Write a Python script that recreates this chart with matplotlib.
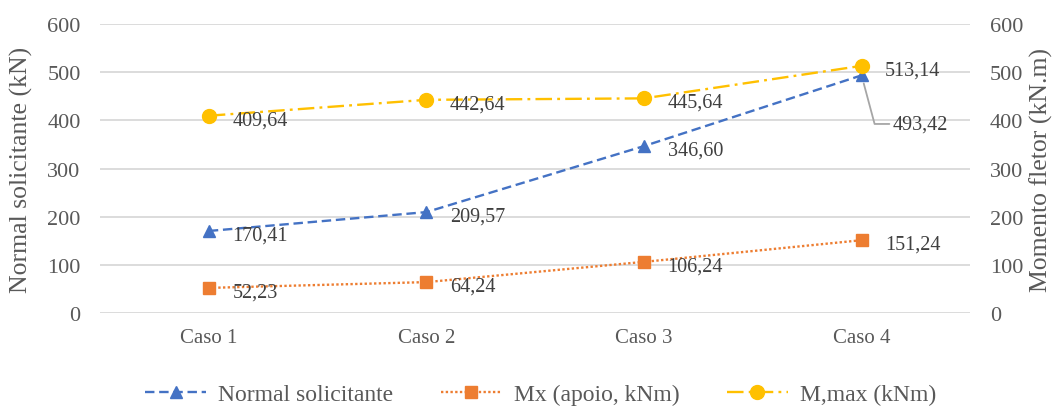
import matplotlib
matplotlib.use("Agg")
import matplotlib.pyplot as plt

# dados
casos = ["Caso 1", "Caso 2", "Caso 3", "Caso 4"]
normal = [170.41, 209.57, 346.60, 493.42]
mx_apoio = [52.23, 64.24, 106.24, 151.24]
m_max = [409.64, 442.64, 445.64, 513.14]
yticks = [0, 100, 200, 300, 400, 500, 600]

plt.rcParams['font.family'] = ['Liberation Serif', 'DejaVu Serif']
cinza = '#595959'
texto = '#404040'

fig = plt.figure(figsize=(10.64, 4.10), dpi=100)
fig.subplots_adjust(left=0.094, right=0.912, top=0.939, bottom=0.234)
ax = fig.add_subplot(111)
ax2 = ax.twinx()

x = list(range(len(casos)))

l1, = ax.plot(x, normal, color='#4472C4', lw=1.7, linestyle=(0, (4, 2)),
              marker='^', ms=9, mec='#4472C4', label='Normal solicitante', zorder=3)
l2, = ax2.plot(x, mx_apoio, color='#ED7D31', lw=1.7, linestyle=(0, (1, 1)),
               marker='s', ms=9, mec='#ED7D31', label='Mx (apoio, kNm)', zorder=3)
l3, = ax2.plot(x, m_max, color='#FFC000', lw=1.7, linestyle=(0, (7, 2.2, 1.2, 2.2)),
               marker='o', ms=10, mec='#FFC000', label='M,max (kNm)', zorder=3)

for a in (ax, ax2):
    a.set_xlim(-0.5, 3.5)
    a.set_ylim(0, 600)
    a.set_yticks(yticks)
    for s in a.spines.values():
        s.set_visible(False)
    a.tick_params(length=0, colors=cinza, labelsize=16, pad=14)

ax.yaxis.grid(True, color='#D9D9D9', lw=1.3)
ax.set_axisbelow(True)
ax.set_xticks(x)
ax.set_xticklabels(casos)
ax.tick_params(axis='x', labelsize=15, pad=11)

ax.set_ylabel('Normal solicitante (kN)', fontsize=18.5, color=cinza)
ax.yaxis.set_label_coords(-0.077, 0.5)
ax2.set_ylabel('Momento fletor (kN.m)', fontsize=18.5, color=cinza, rotation=90)
ax2.yaxis.set_label_coords(1.068, 0.5)

def fmt(v):
    return f"{v:.2f}".replace('.', ',')

# rótulos de dados
for i, v in enumerate(normal):
    if i == 3:
        ax.annotate(fmt(v), (i, v), xytext=(22, -35), textcoords='offset points',
                    fontsize=14.5, color=texto, va='center', ha='left',
                    arrowprops=dict(arrowstyle='-', color='#A6A6A6', lw=1.3,
                                    connectionstyle='angle,angleA=0,angleB=-75,rad=0',
                                    shrinkA=0, shrinkB=6))
    else:
        ax.annotate(fmt(v), (i, v), xytext=(17, -3), textcoords='offset points',
                    fontsize=14.5, color=texto, va='center', ha='left')
for serie in (mx_apoio, m_max):
    for i, v in enumerate(serie):
        ax2.annotate(fmt(v), (i, v), xytext=(17, -3), textcoords='offset points',
                     fontsize=14.5, color=texto, va='center', ha='left')

fig.legend(handles=[l1, l2, l3], loc='center', bbox_to_anchor=(0.508, 0.035),
           ncol=3, frameon=False, fontsize=17, handlelength=2.6,
           columnspacing=2.0, handletextpad=0.5, labelcolor=cinza)

fig.savefig('out.png', dpi=100)
